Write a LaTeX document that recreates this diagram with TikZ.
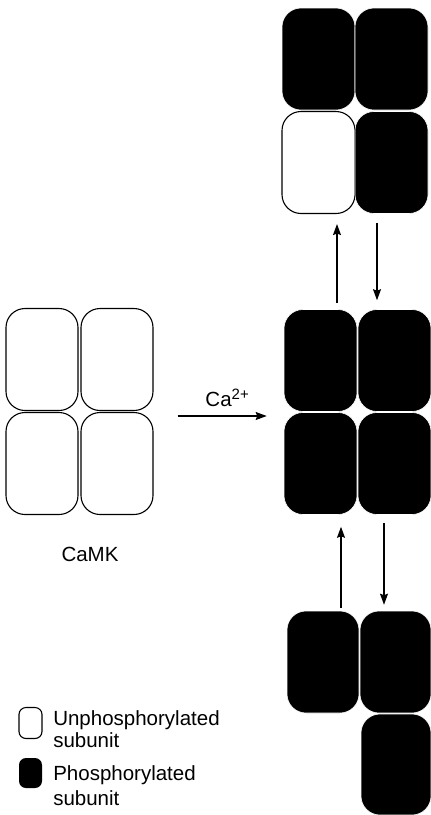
\documentclass[tikz,border=0pt]{standalone}
\usepackage{fontspec}
\setmainfont{Liberation Sans}
\usetikzlibrary{arrows.meta}

\begin{document}
\begin{tikzpicture}[x=1pt,y=-1pt,semithick,
  sub/.style ={rounded corners=19pt,minimum width=73pt,minimum height=102pt,inner sep=0pt},
  unp/.style ={sub,draw,line width=1.1pt,fill=white},
  pho/.style ={sub,draw=white,line width=0.6pt,fill=black},
  key/.style ={rounded corners=7pt,minimum width=23pt,minimum height=31pt,inner sep=0pt},
  arr/.style ={line width=1.1pt,-{Stealth[length=11pt,width=8pt,inset=1.5pt]}},
  lbl/.style ={font=\fontsize{20.5}{22}\selectfont,inner sep=0pt}]

\useasboundingbox (0,0) rectangle (431,815);

%CaMK, all subunits unphosphorylated
\node[unp,minimum width=72pt] (L1) at (42,359.5) {};
\node[unp,minimum width=72pt] (L2) at (117,359.5) {};
\node[unp,minimum width=72pt] (L3) at (42,463.5) {};
\node[unp,minimum width=72pt] (L4) at (117,463.5) {};
\node[lbl] (K) at (90,554) {CaMK};

%top
\node[pho] (T1) at (318.5,59) {};
\node[pho] (T2) at (391.5,59) {};
\node[unp] (T3) at (318.5,162.5) {};
\node[pho] (T4) at (391.5,162.5) {};

%middle
\node[pho] (M1) at (320.5,360.5) {};
\node[pho] (M2) at (394.5,360.5) {};
\node[pho] (M3) at (320.5,463.5) {};
\node[pho] (M4) at (394.5,463.5) {};

%bottom
\node[pho,minimum width=72pt] (B1) at (323,662) {};
\node[pho,minimum width=71pt] (B2) at (395.5,662) {};
\node[pho,minimum width=70pt,minimum height=101pt] (B3) at (396,764.5) {};

\draw [arr] ([xshift=24pt,yshift=47.5pt]L4.east) -- node[lbl,above=9pt,xshift=5pt] {Ca{\fontsize{15}{15}\selectfont\raisebox{7pt}{2+}}} ([xshift=-17pt,yshift=47.5pt]M3.west);

\draw [arr] ([xshift=16.5pt,yshift=6pt]M1.north) -- ([xshift=18.5pt,yshift=-10pt]T3.south);
\draw [arr] ([xshift=-14.5pt,yshift=-9pt]T4.south) -- ([xshift=-17.5pt,yshift=9pt]M2.north);
\draw [arr] ([xshift=18pt,yshift=3pt]B1.north) -- ([xshift=20.5pt,yshift=-12pt]M3.south);
\draw [arr] ([xshift=-10.5pt,yshift=-8pt]M4.south) -- ([xshift=-11.5pt,yshift=6pt]B2.north);

%key
\node[key,draw,line width=1.1pt] (KU) at (30.5,723) {};
\node[key,fill=black,minimum height=30pt] (KP) at (30.5,773) {};
\node[lbl,anchor=west,align=left] (TU) at (53,729) {Unphosphorylated\\subunit};
\node[lbl,anchor=west,align=left,font=\fontsize{20.5}{25}\selectfont] (TP) at (53,786) {Phosphorylated\\subunit};
\end{tikzpicture}
\end{document}
